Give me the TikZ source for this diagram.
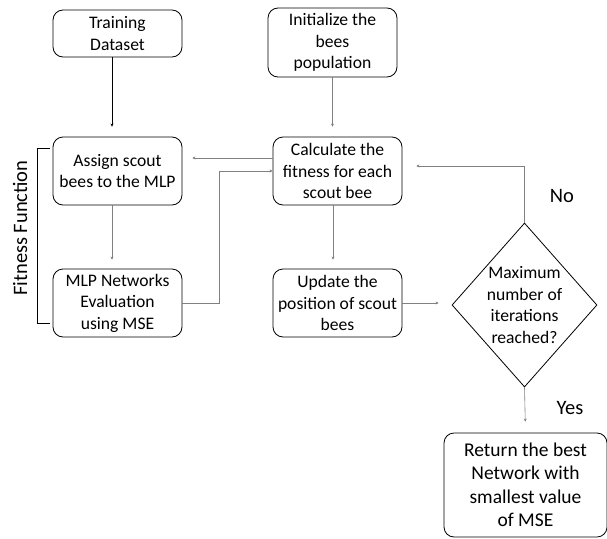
\documentclass[tikz,border=0pt]{standalone}
\usepackage{fontspec}
\setmainfont{Carlito}
\usetikzlibrary{shapes.geometric,arrows.meta}

\begin{document}
\begin{tikzpicture}[x=1pt,y=-1pt,
   box/.style={draw,rounded corners=10pt,line width=0.8pt,align=center,inner sep=0pt,
     minimum width=129pt,font=\fontsize{17.6}{21.5}\selectfont},
   decision/.style={draw,diamond,aspect=0.88,line width=0.8pt,align=center,inner sep=0pt,
     minimum width=145pt,minimum height=164pt,font=\fontsize{17.6}{21.5}\selectfont},
   flow/.style={draw=gray,line width=0.6pt,-{Stealth[length=3pt,width=3pt]}},
   lbl/.style={font=\fontsize{20.5}{24}\selectfont}]
   \useasboundingbox (0,0) rectangle (607,538);
   \node[box,minimum height=47pt] (train) at (117.5,33.5) {Training\\Dataset};
   \node[box,minimum height=69pt] (init) at (332.5,42.5) {Initialize the\\bees\\population};
   \node[box,minimum height=68pt] (assign) at (117.5,171) {Assign scout\\bees to the MLP};
   \node[box,minimum height=68pt] (calc) at (337.5,171) {Calculate the\\fitness for each\\scout bee};
   \node[box,minimum height=68pt] (mlp) at (117.5,303) {MLP Networks\\Evaluation\\using MSE};
   \node[box,minimum height=68pt] (update) at (337.5,303) {Update the\\position of scout\\bees};
   \node[decision] (dec) at (524.5,305) {Maximum\\number of\\iterations\\reached?};
   \node[box,minimum width=163pt,minimum height=104pt,font=\fontsize{19.5}{23.5}\selectfont] (ret) at (525.5,485) {Return the best\\Network with\\smallest value\\of MSE};
   \node[lbl] (no) at (562,196) {No};
   \node[lbl] (yes) at (570,408) {Yes};
   \node[lbl,rotate=90] (fit) at (20,228) {Fitness Function};
   \draw (50,148) -- (37,148) -- (37,323) -- (50,323);
   \draw[flow,draw=black,line width=0.5pt,shorten >=10pt] ([xshift=-5.5pt]train.south) -- ([xshift=-5.5pt]assign.north);
   \draw[flow,shorten >=10pt] (init.south) -- (init.south |- calc.north);
   \draw[flow,shorten >=10pt] ([yshift=13pt]calc.west) -- ([yshift=13pt]assign.east);
   \draw[flow] (mlp.east) -- ++(37,0) |- (calc.west);
   \draw[flow,shorten >=9pt] ([xshift=-5.5pt]assign.south) -- ([xshift=-5.5pt]mlp.north);
   \draw[flow,shorten >=9pt] ([xshift=-4.5pt]calc.south) -- ([xshift=-4.5pt]update.north);
   \draw[flow,shorten >=13pt] (update.east) -- (update.east -| dec.west);
   \draw[flow,shorten >=14pt] (dec.north) |- ([yshift=5pt]calc.east);
   \draw[flow,shorten >=11pt] (dec.south) -- (ret.north);
\end{tikzpicture}
\end{document}
